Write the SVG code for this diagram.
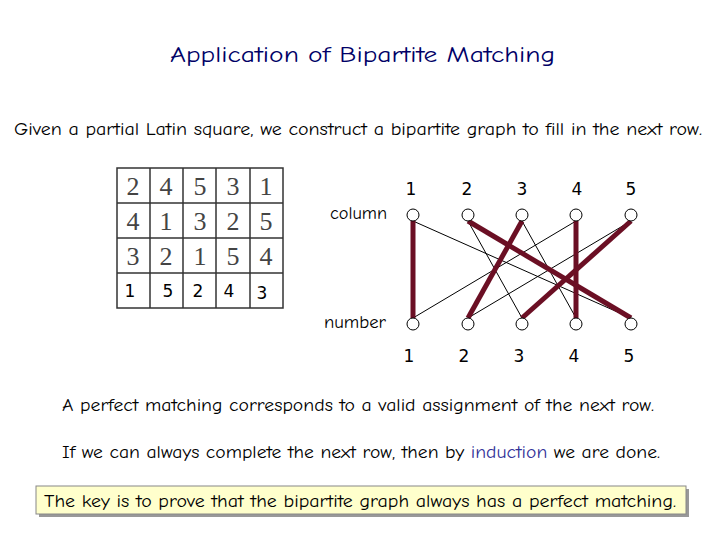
<svg xmlns="http://www.w3.org/2000/svg" width="720" height="540" viewBox="0 0 720 540">
<style>
.t{font-family:"Comic Neue","DejaVu Sans",sans-serif;fill:#000}
.g{font-family:"Liberation Serif",serif;font-size:26px;fill:#444;text-anchor:middle}
.r{font-family:"DejaVu Sans",sans-serif;font-size:17px;text-anchor:middle}
.n{fill:#fff;stroke:#000;stroke-width:1}
.thin{stroke:#000;stroke-width:1}
.thick{stroke:#6b0f24;stroke-width:5}
</style>
<rect width="720" height="540" fill="#fff"/>
<text class="t" x="170" y="62" font-size="22" textLength="385" lengthAdjust="spacingAndGlyphs" style="fill:#000066">Application of Bipartite Matching</text>
<text class="t" x="14" y="135" font-size="17" textLength="688" lengthAdjust="spacingAndGlyphs">Given a partial Latin square, we construct a bipartite graph to fill in the next row.</text>
<g id="latin-square">
<g stroke="#333" stroke-width="1.5" fill="none">
<rect x="117" y="168" width="166" height="140"/>
<line x1="150" y1="168" x2="150" y2="308"/><line x1="183" y1="168" x2="183" y2="308"/>
<line x1="216" y1="168" x2="216" y2="308"/><line x1="250" y1="168" x2="250" y2="308"/>
<line x1="117" y1="203" x2="283" y2="203"/><line x1="117" y1="238" x2="283" y2="238"/>
<line x1="117" y1="273" x2="283" y2="273"/>
</g>
<g class="g">
<text x="133" y="195">2</text><text x="166" y="195">4</text><text x="200" y="195">5</text><text x="233" y="195">3</text><text x="266" y="195">1</text>
<text x="133" y="230">4</text><text x="166" y="230">1</text><text x="200" y="230">3</text><text x="233" y="230">2</text><text x="266" y="230">5</text>
<text x="133" y="265">3</text><text x="166" y="265">2</text><text x="200" y="265">1</text><text x="233" y="265">5</text><text x="266" y="265">4</text>
</g>
<g class="r"><text x="130" y="297">1</text><text x="168" y="297">5</text><text x="198" y="297">2</text><text x="229" y="297">4</text><text x="262" y="299">3</text></g>
</g>
<g class="r"><text x="411" y="195">1</text><text x="467" y="195">2</text><text x="522" y="195">3</text><text x="577" y="195">4</text><text x="631" y="195">5</text>
<text x="409" y="362">1</text><text x="464" y="362">2</text><text x="519" y="362">3</text><text x="574" y="362">4</text><text x="629" y="362">5</text></g>
<text class="t" x="330" y="219" font-size="17" textLength="57" lengthAdjust="spacingAndGlyphs">column</text>
<text class="t" x="324" y="328" font-size="17" textLength="62" lengthAdjust="spacingAndGlyphs">number</text>
<g id="connectors">
<line class="thin" x1="413" y1="221" x2="631" y2="318"/>
<line class="thin" x1="468" y1="221" x2="522" y2="318"/>
<line class="thin" x1="522" y1="221" x2="576" y2="318"/>
<line class="thin" x1="576" y1="221" x2="413" y2="318"/>
<line class="thin" x1="631" y1="221" x2="468" y2="318"/>
<line class="thick" x1="413" y1="221" x2="413" y2="318"/>
<line class="thick" x1="468" y1="221" x2="631" y2="318"/>
<line class="thick" x1="522" y1="221" x2="468" y2="318"/>
<line class="thick" x1="576" y1="221" x2="576" y2="318"/>
<line class="thick" x1="631" y1="221" x2="522" y2="318"/>
</g>
<g id="top-nodes"><circle class="n" cx="413" cy="215" r="6"/><circle class="n" cx="468" cy="215" r="6"/><circle class="n" cx="522" cy="215" r="6"/><circle class="n" cx="576" cy="215" r="6"/><circle class="n" cx="631" cy="215" r="6"/></g>
<g id="bottom-nodes"><circle class="n" cx="413" cy="324" r="6"/><circle class="n" cx="468" cy="324" r="6"/><circle class="n" cx="522" cy="324" r="6"/><circle class="n" cx="576" cy="324" r="6"/><circle class="n" cx="631" cy="324" r="6"/></g>
<text class="t" x="62" y="411" font-size="17" textLength="592" lengthAdjust="spacingAndGlyphs">A perfect matching corresponds to a valid assignment of the next row.</text>
<text class="t" x="62" y="458" font-size="17" textLength="598" lengthAdjust="spacingAndGlyphs">If we can always complete the next row, then by <tspan style="fill:#333399">induction</tspan> we are done.</text>
<rect x="39" y="489" width="650" height="28" fill="#999"/>
<rect x="36" y="486" width="650" height="28" fill="#ffffcc" stroke="#888"/>
<text class="t" x="44" y="507" font-size="17" textLength="632" lengthAdjust="spacingAndGlyphs">The key is to prove that the bipartite graph always has a perfect matching.</text>
</svg>
